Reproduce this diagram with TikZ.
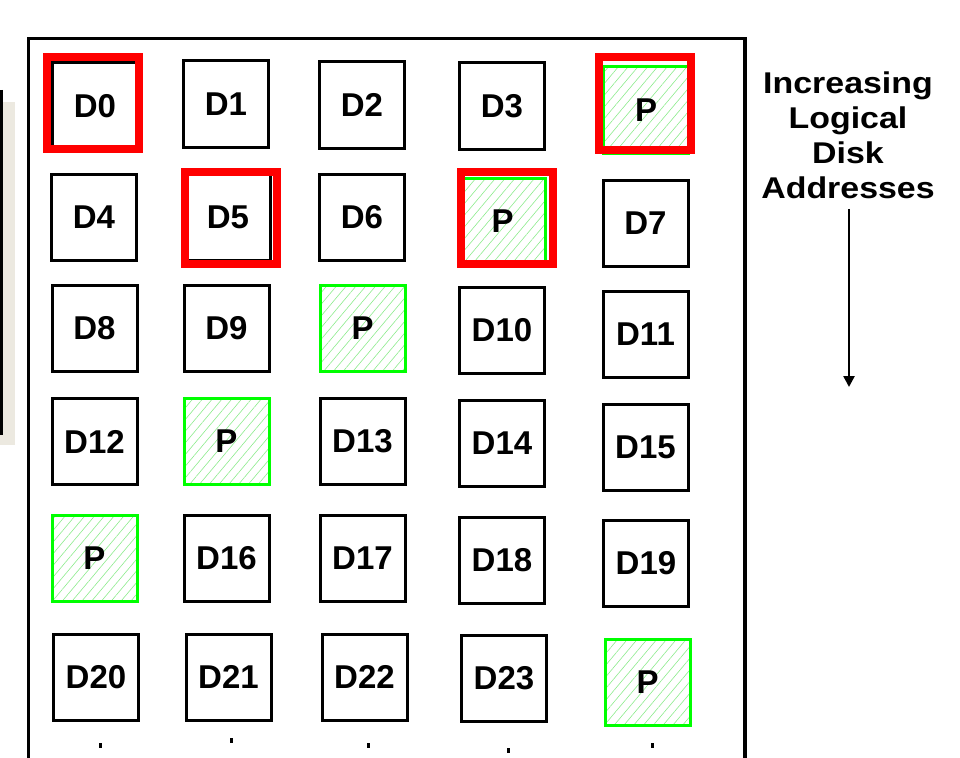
\documentclass[tikz,border=0pt]{standalone}
\usepackage{xcolor}
\usepackage{fontspec}
\setmainfont{Liberation Sans}
\newfontfamily\sidefont[FakeStretch=1.13]{Liberation Sans}
\usepackage{tikz}
\usetikzlibrary{arrows.meta, patterns.meta}
\definecolor{hatchgreen}{RGB}{140,235,140}
\definecolor{panelbeige}{RGB}{236,233,224}

\begin{document}
\begin{tikzpicture}[x=1pt, y=-1pt,
    disk/.style={draw=black, line width=3pt, minimum width=85pt, minimum height=86pt,
        inner sep=0pt, font=\fontsize{33}{33}\selectfont\bfseries},
    parity/.style={disk, draw=green, pattern={Lines[angle=50, distance=7.5pt, line width=0.6pt]},
        pattern color=hatchgreen},
    hot/.style={draw=red, line width=8pt, minimum width=92pt, minimum height=92pt, inner sep=0pt},
    addrarrow/.style={line width=2.5pt, -{Triangle[length=11pt, width=11pt]}}]
                    \useasboundingbox (0,0) rectangle (960,757);
                    % Left panel
                    \fill[panelbeige] (0,102) rectangle (15,445);
                    \draw[line width=3pt] (1,90) -- (1,435);
                    % Frame
                    \draw[line width=3.5pt, line join=miter] (28.5,760) -- (28.5,38.5) -- (745,38.5) -- (745,760);
                    % Row 1
                    \node[disk] (d0) at (95,106) {D0};
                    \node[disk] (d1) at (226,104) {D1};
                    \node[disk] (d2) at (362,105) {D2};
                    \node[disk] (d3) at (502,106) {D3};
                    \node[parity] (p0) at (646,110) {P};
                    % Row 2
                    \node[disk] (d4) at (94,217.5) {D4};
                    \node[disk] (d5) at (228,217) {D5};
                    \node[disk] (d6) at (362,217.5) {D6};
                    \node[parity] (p1) at (502.5,221) {P};
                    \node[disk] (d7) at (645.5,223) {D7};
                    % Row 3
                    \node[disk] (d8) at (94.5,328.5) {D8};
                    \node[disk] (d9) at (226.5,328.5) {D9};
                    \node[parity] (p2) at (362.5,328.5) {P};
                    \node[disk] (d10) at (502,330.5) {D10};
                    \node[disk] (d11) at (645.5,334) {D11};
                    % Row 4
                    \node[disk] (d12) at (94.5,441.5) {D12};
                    \node[parity] (p3) at (226.5,441.5) {P};
                    \node[disk] (d13) at (362.5,441.5) {D13};
                    \node[disk] (d14) at (502,443.5) {D14};
                    \node[disk] (d15) at (645.5,447.5) {D15};
                    % Row 5
                    \node[parity] (p4) at (94.5,558) {P};
                    \node[disk] (d16) at (226.5,558) {D16};
                    \node[disk] (d17) at (362.5,558) {D17};
                    \node[disk] (d18) at (502,560.5) {D18};
                    \node[disk] (d19) at (646,563.5) {D19};
                    % Row 6
                    \node[disk] (d20) at (96,677) {D20};
                    \node[disk] (d21) at (228.5,677) {D21};
                    \node[disk] (d22) at (364.5,677) {D22};
                    \node[disk] (d23) at (504,678.5) {D23};
                    \node[parity] (p5) at (647.5,682.5) {P};
                    % Highlighted stripe
                    \node[hot] (hot0) at (93,103) {};
                    \node[hot] (hot5) at (231,218) {};
                    \node[hot] (hotp1) at (507,218) {};
                    \node[hot] (hotp0) at (644.5,103.5) {};
                    % Continuation marks
                    \fill (98.5,743) rectangle (101.5,748);
                    \fill (229.5,738) rectangle (232.5,743);
                    \fill (367,743) rectangle (370,748);
                    \fill (506.5,748) rectangle (509.5,753);
                    \fill (650.5,743) rectangle (653.5,748);
                    % Address direction
                    \node[anchor=north, inner sep=0pt, align=center,
                        font=\sidefont\fontsize{30}{35}\selectfont\bfseries] (addr) at (848,71.5)
                        {Increasing\\Logical\\Disk\\Addresses};
                    \coordinate (addrend) at (849,387);
                    \draw[addrarrow] (addrend |- addr.south) ++(0,10) -- (addrend);
                \end{tikzpicture}
\end{document}
